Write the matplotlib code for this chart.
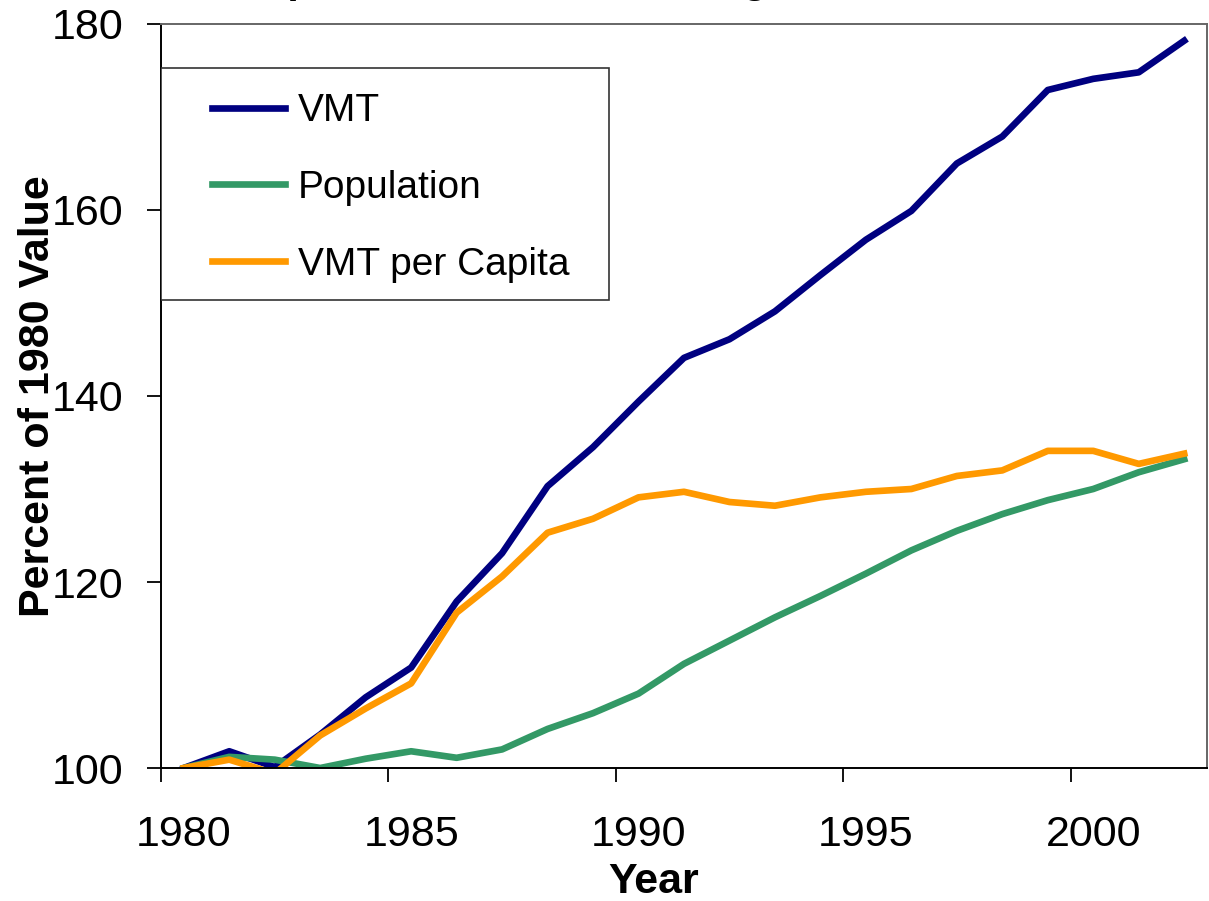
import numpy as np
from matplotlib import pyplot as plt
from matplotlib.patches import Rectangle

plt.rcParams["font.family"] = ["Liberation Sans", "DejaVu Sans"]

years = np.arange(1980, 2003)
vmt = [100.0, 101.8, 100.1, 103.6, 107.6, 110.8, 117.9, 123.1, 130.3, 134.5,
       139.4, 144.1, 146.1, 149.1, 153.0, 156.8, 159.9, 165.0, 167.9, 172.9,
       174.1, 174.8, 178.2]
population = [100.0, 101.2, 100.9, 100.0, 101.0, 101.8, 101.1, 102.0, 104.2, 105.9,
              108.0, 111.2, 113.7, 116.2, 118.5, 120.9, 123.4, 125.5, 127.3, 128.8,
              130.0, 131.8, 133.2]
vmt_per_capita = [100.0, 100.9, 99.4, 103.5, 106.4, 109.1, 116.7, 120.6, 125.3, 126.8,
                  129.1, 129.7, 128.6, 128.2, 129.1, 129.7, 130.0, 131.4, 132.0, 134.1,
                  134.1, 132.7, 133.8]
year_labels = [1980, 1985, 1990, 1995, 2000]

fig = plt.figure(figsize=(12.09, 9.01), dpi=100)
ax = fig.add_axes([0.1332, 0.1476, 0.8651, 0.8258])

ax.plot(years, vmt, color="#000080", lw=4.8, label="VMT")
ax.plot(years, population, color="#339966", lw=4.8, label="Population")
ax.plot(years, vmt_per_capita, color="#FF9900", lw=4.8, label="VMT per Capita")

ax.set_xlim(1979.5, 2002.5)
ax.set_ylim(100, 180)
ax.set_yticks([100, 120, 140, 160, 180])

# category style axis: ticks between years, labels on the years
ax.set_xticks(np.array(year_labels) - 0.5)
ax.set_xticklabels([])
ax.set_xticks(year_labels, minor=True)
ax.set_xticklabels([str(y) for y in year_labels], minor=True)
ax.tick_params(axis="x", which="major", direction="out", length=10, width=1.3)
ax.tick_params(axis="x", which="minor", length=0, pad=34, labelsize=31)
ax.tick_params(axis="y", direction="out", length=10, width=1.3, pad=17, labelsize=31)

for side in ["left", "bottom"]:
    ax.spines[side].set_linewidth(1.4)
    ax.spines[side].set_color("black")
for side in ["top", "right"]:
    ax.spines[side].set_linewidth(1.4)
    ax.spines[side].set_color("#666666")

ax.set_ylabel("Percent of 1980 Value", fontsize=31, fontweight="bold")
ax.yaxis.set_label_coords(-0.0985, 0.5)
ax.set_xlabel("Year", fontsize=31, fontweight="bold")
ax.xaxis.set_label_coords(0.471, -0.126)

ax.add_patch(Rectangle((0, 0.629), 0.428, 0.312, transform=ax.transAxes,
                       facecolor="white", edgecolor="#333333", lw=1.2, zorder=3))
leg = ax.legend(loc="upper left", bbox_to_anchor=(0.0488, 0.907), frameon=False,
                borderpad=0, borderaxespad=0, handlelength=1.88, handletextpad=0.33,
                labelspacing=1.05, fontsize=28)
leg.set_zorder(4)

# title sits mostly above the canvas, only descenders show
fig.text(235 / 1209, 1 + 7 / 901, "Population and VMT Change Since 1980",
         fontsize=29.5, fontweight="bold", ha="left", va="baseline")

fig.savefig("out.png", dpi=100)
